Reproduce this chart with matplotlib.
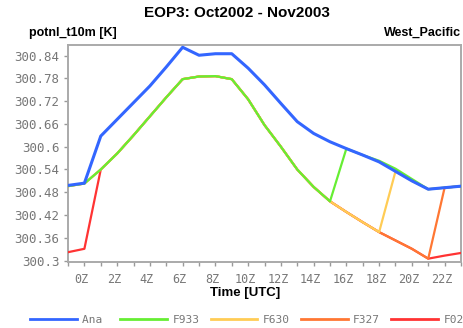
import matplotlib
matplotlib.use('Agg')
import matplotlib.pyplot as plt
import matplotlib.transforms as mtransforms
import numpy as np

# hours (UTC), -1 is 23Z of the previous day
hours = list(range(-1, 24))

ana  = [300.498, 300.504, 300.628, 300.672, 300.716, 300.760, 300.810, 300.862,
        300.841, 300.845, 300.845, 300.807, 300.763, 300.714, 300.666, 300.635,
        300.613, 300.595, 300.578, 300.560, 300.535, 300.510, 300.488, 300.492,
        300.496]
f933 = [300.496, 300.503, 300.540, 300.582, 300.630, 300.680, 300.730, 300.778,
        300.785, 300.786, 300.778, 300.725, 300.657, 300.600, 300.540, 300.494,
        300.456, 300.595, 300.578, 300.563, 300.542, 300.515, 300.488, 300.492,
        300.496]
f630 = [300.496, 300.503, 300.540, 300.582, 300.630, 300.680, 300.730, 300.778,
        300.785, 300.786, 300.778, 300.725, 300.657, 300.600, 300.540, 300.494,
        300.456, 300.428, 300.401, 300.375, 300.535, 300.510, 300.488, 300.492,
        300.496]
f327 = [300.496, 300.503, 300.540, 300.582, 300.630, 300.680, 300.730, 300.778,
        300.785, 300.786, 300.778, 300.725, 300.657, 300.600, 300.540, 300.494,
        300.456, 300.428, 300.401, 300.375, 300.353, 300.331, 300.305, 300.492,
        300.496]
f024 = [300.322, 300.331, 300.540, 300.582, 300.630, 300.680, 300.730, 300.778,
        300.785, 300.786, 300.778, 300.725, 300.657, 300.600, 300.540, 300.494,
        300.456, 300.428, 300.401, 300.375, 300.353, 300.331, 300.305, 300.313,
        300.320]

series_names = ['Ana', 'F933', 'F630', 'F327', 'F024']
colors = ['#3366ff', '#66ee33', '#ffcc55', '#ff7733', '#ff3333']
widths = [2.2, 1.6, 1.6, 1.6, 1.6]

yticks = [300.3, 300.36, 300.42, 300.48, 300.54, 300.6, 300.66, 300.72, 300.78, 300.84]
ytick_labels = ['300.3', '300.36', '300.42', '300.48', '300.54', '300.6',
                '300.66', '300.72', '300.78', '300.84']
xticks = list(range(0, 24, 2))
xtick_labels = ['%dZ' % h for h in xticks]

fig = plt.figure(figsize=(4.64, 3.28), dpi=100)
ax = fig.add_axes([0.1466, 0.201, 0.8469, 0.6618])

all_series = [ana, f933, f630, f327, f024]
handles = []
# draw in reverse so Ana ends up on top
for i in reversed(range(5)):
    ln, = ax.plot(hours, all_series[i], color=colors[i], lw=widths[i],
                  label=series_names[i], zorder=10 - i, solid_joinstyle='round')
    handles.insert(0, ln)

ax.set_xlim(-1, 23)
ax.set_ylim(300.296, 300.868)

grey = '#999999'
for s in ax.spines.values():
    s.set_color('#aaaaaa')
    s.set_linewidth(1.4)

ax.set_xticks(xticks)
ax.set_xticklabels(xtick_labels, family='DejaVu Sans Mono', fontsize=8.5, color='#777777')
ax.set_xticks(range(-1, 24), minor=True)
ax.set_yticks(yticks)
ax.set_yticklabels(ytick_labels, family='DejaVu Sans Mono', fontsize=9, color='#777777')
ax.tick_params(axis='both', which='both', direction='out', length=3, width=1,
               color=grey, pad=3)
ax.tick_params(axis='x', which='major', pad=5)

# x labels sit a bit left of their ticks in the original
offset = mtransforms.ScaledTranslation(-3 / 100.0, 0, fig.dpi_scale_trans)
for lab in ax.get_xticklabels():
    lab.set_transform(lab.get_transform() + offset)

fig.text(0.511, 0.960, 'EOP3: Oct2002 - Nov2003', ha='center', va='center',
         family='Liberation Sans', fontweight='bold', fontsize=11)
fig.text(0.062, 0.899, 'potnl_t10m [K]', ha='left', va='center',
         family='Liberation Sans', fontweight='bold', fontsize=9)
fig.text(0.993, 0.899, 'West_Pacific', ha='right', va='center',
         family='Liberation Sans', fontweight='bold', fontsize=9)
fig.text(0.528, 0.107, 'Time [UTC]', ha='center', va='center',
         family='Liberation Sans', fontweight='bold', fontsize=9.5)

# fixed-width labels so every legend column has the same pitch
leg_labels = [n.ljust(4) for n in series_names]
leg = fig.legend(handles=handles, labels=leg_labels, loc='center left',
                 bbox_to_anchor=(0.0647, 0.024), ncol=5, frameon=False,
                 handlelength=4.2, handletextpad=0.5, columnspacing=1.0,
                 borderaxespad=0, borderpad=0,
                 prop={'family': 'DejaVu Sans Mono', 'size': 8})
for t in leg.get_texts():
    t.set_color('#777777')
for l in leg.get_lines():
    l.set_linewidth(2)

plt.savefig('out.png', dpi=100)
plt.close()
